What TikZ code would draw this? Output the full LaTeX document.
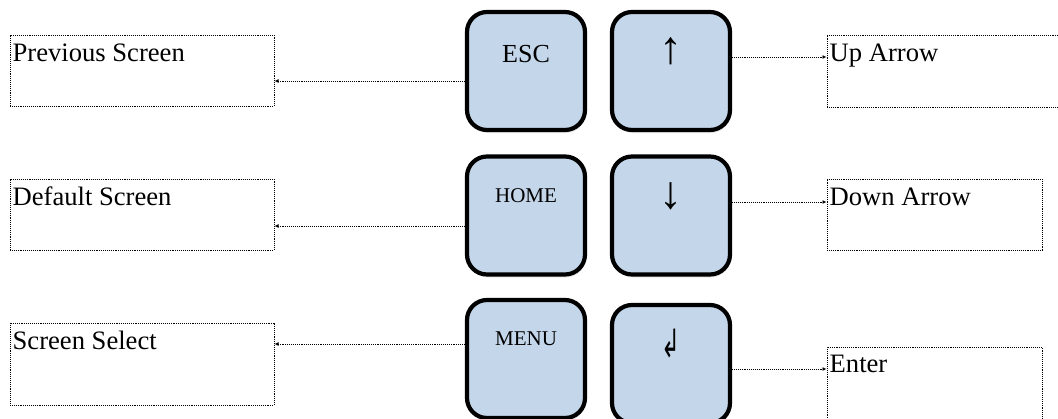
\documentclass[tikz,border=0pt]{standalone}
\usepackage{fontspec}
\setmainfont{Liberation Serif}
\newfontfamily\symfont{DejaVu Sans}
\usetikzlibrary{arrows.meta,shadows}
\definecolor{keyblue}{RGB}{196,214,234}
\tikzset{
  key/.style={draw=black, line width=4.2pt, fill=keyblue, rounded corners=20pt,
    minimum width=118pt, minimum height=118pt, inner sep=0pt,
    drop shadow={opacity=0.18, shadow xshift=1pt, shadow yshift=-3pt}},
  info/.style={draw=black, line width=1pt, dash pattern=on 1pt off 0.9pt, inner sep=0pt},
  conn/.style={line width=1pt, dash pattern=on 1pt off 0.9pt, -{Latex[length=4pt,width=4pt]}},
  infotext/.style={anchor=base west, inner sep=0pt, font=\fontsize{26.6}{30}\selectfont},
  keytext/.style={anchor=base, inner sep=0pt},
  symtext/.style={anchor=center, inner sep=0pt, font=\fontsize{46}{50}\selectfont},
  symtextb/.style={anchor=center, inner sep=0pt, font=\symfont\fontsize{30}{34}\selectfont},
}
\begin{document}
\begin{tikzpicture}[x=1pt,y=-1pt]
\useasboundingbox (0,0) rectangle (1058,418);
\clip (0,0) rectangle (1058,418);

% info boxes left
\node[info, minimum width=264pt, minimum height=71pt] (prev) at (142,70.5) {};
\node[info, minimum width=264pt, minimum height=71pt] (def) at (142,214.5) {};
\node[info, minimum width=264pt, minimum height=82pt] (sel) at (142,364) {};
% info boxes right
\node[info, minimum width=243pt, minimum height=72pt] (uparr) at (948.5,71) {};
\node[info, minimum width=215pt, minimum height=71pt] (downarr) at (934.5,214.5) {};
\node[info, minimum width=215pt, minimum height=83pt] (enterbox) at (934.5,388.5) {};

\node[infotext] (tprev) at ([xshift=3pt,yshift=-27pt]prev.north west) {Previous Screen};
\node[infotext] (tdef) at ([xshift=3pt,yshift=-27pt]def.north west) {Default Screen};
\node[infotext] (tsel) at ([xshift=3pt,yshift=-27pt]sel.north west) {Screen Select};
\node[infotext] (tup) at ([xshift=3pt,yshift=-27pt]uparr.north west) {Up Arrow};
\node[infotext] (tdown) at ([xshift=3pt,yshift=-27pt]downarr.north west) {Down Arrow};
\node[infotext] (tenter) at ([xshift=3pt,yshift=-26pt]enterbox.north west) {Enter};

% keys
\node[key] (esc) at (526,71) {};
\node[key] (home) at (526,215.5) {};
\node[key] (menu) at (526,359) {};
\node[key] (up) at (671,71) {};
\node[key] (down) at (671,215.5) {};
\node[key] (enter) at (671,364) {};

\node[keytext, font=\fontsize{26}{30}\selectfont] (tesc) at ([yshift=9pt]esc.center) {ESC};
\node[keytext, font=\fontsize{21}{25}\selectfont] (thome) at ([yshift=13.5pt]home.center) {HOME};
\node[keytext, font=\fontsize{21}{25}\selectfont] (tmenu) at ([yshift=14pt]menu.center) {MENU};
\node[symtext] (tuparrow) at ([yshift=19.5pt]up.center) {↑};
\node[symtext] (tdownarrow) at ([yshift=19.5pt]down.center) {↓};
\node[symtextb] (tenterarrow) at ([yshift=20pt]enter.center) {\scalebox{0.75}[1.3]{↲}};

% connectors
\draw[conn] ([yshift=-10pt]esc.west) -- ([yshift=-10pt]esc.west -| prev.east);
\draw[conn] ([yshift=-10.5pt]home.west) -- ([yshift=-10.5pt]home.west -| def.east);
\draw[conn] ([yshift=15pt]menu.west) -- ([yshift=15pt]menu.west -| sel.east);
\draw[conn] ([yshift=14pt]up.east) -- ([yshift=14pt]up.east -| uparr.west);
\draw[conn] ([yshift=13.5pt]down.east) -- ([yshift=13.5pt]down.east -| downarr.west);
\draw[conn] ([yshift=-5pt]enter.east) -- ([yshift=-5pt]enter.east -| enterbox.west);
\end{tikzpicture}
\end{document}
